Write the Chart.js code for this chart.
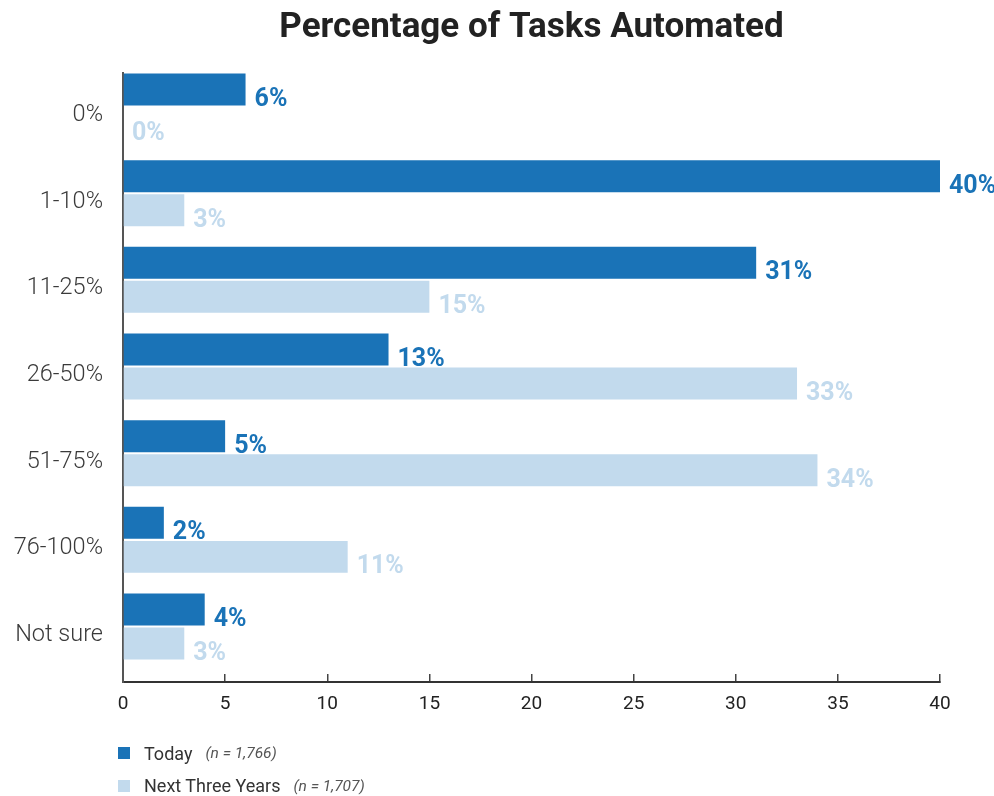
<!DOCTYPE html>
<html>
<head>
<meta charset="utf-8">
<script src="https://cdn.jsdelivr.net/npm/chart.js@4/dist/chart.umd.min.js"></script>
<style>
  body { margin: 0; background: #fff; font-family: Roboto, "Noto Sans", sans-serif; }
  #wrap { position: relative; width: 994px; height: 796px; }
  #legend { position: absolute; left: 0; top: 0; width: 994px; height: 796px; pointer-events: none; }
  .row { position: absolute; left: 118px; height: 20px; display: flex; align-items: center; white-space: nowrap; }
  .box { width: 12px; height: 12px; margin-right: 14px; }
  .name { font-size: 18px; color: #333; }
  .n { font-size: 15.5px; font-style: italic; color: #555; margin-left: 13px; }
</style>
</head>
<body>
<div id="wrap">
  <canvas id="chart" width="994" height="796"></canvas>
  <div id="legend"></div>
</div>
<script>
"use strict";
const categories = ["0%", "1-10%", "11-25%", "26-50%", "51-75%", "76-100%", "Not sure"];
const todayValues = [6, 40, 31, 13, 5, 2, 4];
const nextValues = [0, 3, 15, 33, 34, 11, 3];
const seriesNames = ["Today", "Next Three Years"];
const sampleSizes = ["(n = 1,766)", "(n = 1,707)"];
const seriesColors = ["#1a73b7", "#c2daed"];
const xTicks = [0, 5, 10, 15, 20, 25, 30, 35, 40];

// value labels just past the end of each bar, sitting on the bar's bottom edge
const valueLabels = {
    id: "valueLabels",
    afterDatasetsDraw(chart) {
        const ctx = chart.ctx;
        ctx.save();
        ctx.font = "bold 25px Roboto";
        ctx.textAlign = "left";
        ctx.textBaseline = "alphabetic";
        chart.data.datasets.forEach((ds, di) => {
            const meta = chart.getDatasetMeta(di);
            ctx.fillStyle = ds.backgroundColor;
            meta.data.forEach((bar, i) => {
                const v = ds.data[i].x;
                ctx.fillText(v + "%", bar.x + 9, bar.y + bar.height / 2 + 0.5);
            });
        });
        ctx.restore();
    }
};

const ctx = document.getElementById("chart");
new Chart(ctx, {
    type: "bar",
    data: {
        datasets: [
            {
                label: seriesNames[0],
                data: categories.map((c, i) => ({ x: todayValues[i], y: i })),
                backgroundColor: seriesColors[0],
            },
            {
                label: seriesNames[1],
                data: categories.map((c, i) => ({ x: nextValues[i], y: i })),
                backgroundColor: seriesColors[1],
            },
        ],
    },
    options: {
        indexAxis: "y",
        responsive: false,
        animation: false,
        categoryPercentage: 0.785,
        barPercentage: 0.94,
        layout: { padding: { left: 0, right: 54, top: 0, bottom: 74 } },
        plugins: {
            legend: { display: false },
            tooltip: { enabled: false },
            title: {
                display: true,
                text: "Percentage of Tasks Automated",
                fullSize: false,
                color: "#222",
                font: { family: "Roboto", size: 35, weight: "bold" },
                padding: { top: 7, bottom: 24 },
            },
        },
        scales: {
            x: {
                type: "linear",
                position: "bottom",
                min: xTicks[0],
                max: xTicks[xTicks.length - 1],
                afterBuildTicks: (scale) => { scale.ticks = xTicks.map((v) => ({ value: v })); },
                afterFit: (scale) => { scale.height = 40; },
                grid: { drawOnChartArea: false, drawTicks: true, tickLength: -8, color: "#444", lineWidth: 1.5 },
                border: { display: true, color: "#333", width: 2 },
                ticks: { color: "#222", padding: 19, font: { family: "Roboto", size: 19 } },
            },
            y: {
                type: "linear",
                reverse: true,
                offset: false,
                // one tick per category; extra room below the last group before the x axis
                afterBuildTicks: (scale) => {
                    scale.min = -0.3865;
                    scale.max = 6.64;
                    scale.ticks = categories.map((c, i) => ({ value: i }));
                },
                afterFit: (scale) => { scale.width = 123; },
                grid: { display: false, drawTicks: false, offset: false },
                border: { display: true, color: "#555", width: 2 },
                ticks: {
                    padding: 20,
                    labelOffset: 8.5,
                    color: "#3a3a3a",
                    font: { family: "Roboto", size: 23.5, weight: 300 },
                    callback: (v) => categories[v] ?? "",
                },
            },
        },
    },
    plugins: [valueLabels],
});

// legend: one row per series, with the sample size in italics
const legend = document.getElementById("legend");
const rowTops = [743, 775.5];
seriesNames.forEach((name, i) => {
    const row = document.createElement("div");
    row.className = "row";
    row.style.top = rowTops[i] + "px";
    row.innerHTML = `<span class="box" style="background:${seriesColors[i]}"></span>` +
        `<span class="name">${name}</span><span class="n">${sampleSizes[i]}</span>`;
    legend.appendChild(row);
});
</script>
</body>
</html>
